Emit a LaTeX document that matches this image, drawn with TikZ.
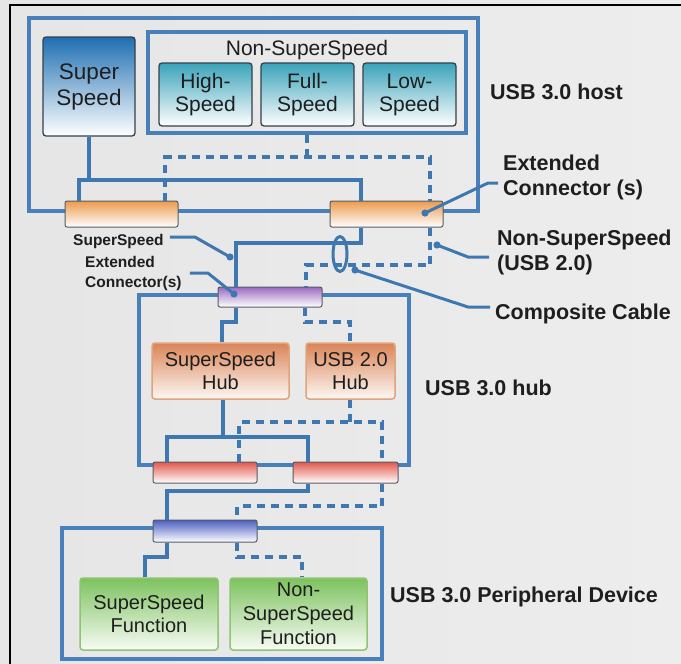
\documentclass[tikz,border=0pt]{standalone}
\usepackage{fontspec}
\setmainfont{Liberation Sans}
\usetikzlibrary{calc,shapes.geometric}

\definecolor{wireblue}{HTML}{3F78B0}
\definecolor{boxblue}{HTML}{4A80BA}
\definecolor{ssblue}{HTML}{1F6FB2}
\definecolor{tealc}{HTML}{3BA3BA}
\definecolor{orangec}{HTML}{EC9A4C}
\definecolor{purplec}{HTML}{9A6BC2}
\definecolor{redc}{HTML}{E2584C}
\definecolor{bluec}{HTML}{4C5EC0}
\definecolor{hubc}{HTML}{DA8456}
\definecolor{hubedge}{HTML}{E0A47C}
\definecolor{greenc}{HTML}{7DC25E}
\definecolor{greenedge}{HTML}{8FC472}
\definecolor{edgedark}{HTML}{34404C}
\definecolor{inkc}{HTML}{1E1E1E}

\begin{document}
\begin{tikzpicture}[x=1pt,y=-1pt,
  container/.style={draw=boxblue, line width=3.3pt, inner sep=0pt},
  gradbox/.style={rounded corners=3pt, inner sep=0pt, align=center, text=inkc,
    font=\fontsize{21}{23}\selectfont},
  ssboxstyle/.style={gradbox, draw=edgedark, line width=1.3pt,
    top color=ssblue, middle color=ssblue!45!white, bottom color=white,
    font=\fontsize{22.5}{26}\selectfont},
  tealbox/.style={gradbox, draw=edgedark, line width=1.3pt,
    top color=tealc, middle color=tealc!45!white, bottom color=white,
    minimum width=93pt, minimum height=63pt},
  hubbox/.style={gradbox, draw=hubedge, line width=1.5pt,
    top color=hubc, middle color=hubc!55!white, bottom color=white!94!hubc,
    minimum height=56pt, font=\fontsize{20}{23}\selectfont},
  funcbox/.style={gradbox, draw=greenedge, line width=1.5pt,
    top color=greenc, middle color=greenc!55!white, bottom color=white!94!greenc,
    minimum width=137pt, minimum height=72pt, font=\fontsize{20}{23}\selectfont},
  plug/.style={rounded corners=2pt, draw=edgedark!85, line width=1pt, inner sep=0pt,
    minimum width=104pt, minimum height=21pt},
  wire/.style={draw=wireblue, line width=3.3pt},
  dwire/.style={wire, dash pattern=on 8pt off 6pt},
  leader/.style={draw=wireblue, line width=3pt},
  dot/.style={fill=wireblue},
  biglabel/.style={anchor=west, inner sep=0pt, align=left, text=inkc,
    font=\bfseries\fontsize{21.5}{25}\selectfont},
  smalllabel/.style={anchor=west, inner sep=0pt, align=left, text=inkc,
    font=\bfseries\fontsize{15.5}{20}\selectfont}
]
% page and background
\useasboundingbox (0,0) rectangle (681,664);
\shade[left color=black!10, middle color=black!4, right color=black!7]
  (-10,-10) rectangle (691,674);
\draw[black, line width=2.6pt] (10,674) -- (10,5) -- (691,5);

% ---------------- containers ----------------
\node[container, minimum width=449pt, minimum height=193pt] (host) at (253.5,114.5) {};
\node[container, minimum width=318pt, minimum height=101pt] (nss) at (307,82.5) {};
\node[container, minimum width=270pt, minimum height=170pt] (hub) at (274,380) {};
\node[container, minimum width=320pt, minimum height=131pt] (dev) at (222,593.5) {};

% ---------------- host ----------------
\node[ssboxstyle, minimum width=92pt, minimum height=99pt] (ss) at (89,86.5) {Super\\Speed};
\node[inner sep=0pt, text=inkc, font=\fontsize{21}{23}\selectfont] (nsstitle) at (307,50) {Non-SuperSpeed};
\node[tealbox] (hs) at (205.5,94.5) {High-\\Speed};
\node[tealbox] (fs) at (307.5,94.5) {Full-\\Speed};
\node[tealbox] (ls) at (409.5,94.5) {Low-\\Speed};

% wiring between the host ports and its connectors
\draw[wire] (ss.south) -- (ss.south |- 0,180);
\draw[dwire] (nss.south) -- (nss.south |- 0,157);

% ---------------- hub ----------------
\node[hubbox, minimum width=137pt] (sshub) at (220.5,371) {SuperSpeed\\Hub};
\node[hubbox, minimum width=89pt] (u2hub) at (350.5,371) {USB 2.0\\Hub};

% ---------------- device ----------------
\node[funcbox, minimum width=138pt] (ssf) at (149,614) {SuperSpeed\\Function};
\node[funcbox, font=\fontsize{20}{24}\selectfont] (nssf) at (298.5,614) {Non-\\SuperSpeed\\Function};

% ---------------- connectors (plugs) ----------------
\node[plug, minimum width=113pt, minimum height=26pt,
  top color=orangec, middle color=orangec!75!white, bottom color=white] (oc1) at (121.5,214) {};
\node[plug, minimum width=113pt, minimum height=26pt,
  top color=orangec, middle color=orangec!75!white, bottom color=white] (oc2) at (386.5,214) {};
\node[plug, minimum height=20pt,
  top color=purplec, middle color=purplec!75!white, bottom color=white] (pc) at (270,297) {};
\node[plug, top color=redc, middle color=redc!75!white, bottom color=white] (rc1) at (205,472.5) {};
\node[plug, minimum width=105pt, top color=redc, middle color=redc!75!white, bottom color=white] (rc2) at (345.5,472.5) {};
\node[plug, minimum height=22pt,
  top color=bluec, middle color=bluec!75!white, bottom color=white] (bc) at (205,531) {};

% ---------------- SuperSpeed wiring ----------------
\draw[wire] (oc1.north -| 79,0) |- (361,180) -- (oc2.north -| 361,0);
\draw[wire] (oc2.south -| 361,0) |- (236,243) -- (pc.north -| 236,0);
\draw[wire] (pc.south -| 236,0) |- (222,322) -- (sshub.north -| 222,0);
\draw[wire] (sshub.south -| 223,0) -- (223,437);
\draw[wire] (rc1.north -| 167,0) |- (308,437) -- (rc2.north -| 308,0);
\draw[wire] (rc2.south -| 308,0) |- (167,491) -- (bc.north -| 167,0);
\draw[wire] (bc.south -| 167,0) |- (145,557) -- (ssf.north -| 145,0);

% ---------------- USB 2.0 wiring ----------------
\draw[dwire] (oc1.north -| 165,0) |- (430,157) -- (oc2.north -| 430,0);
\draw[dwire] (oc2.south -| 430,0) |- (306,265) -- (pc.north -| 306,0);
\draw[dwire] (pc.south -| 305,0) |- (350,322) -- (u2hub.north -| 350,0);
\draw[dwire] (u2hub.south -| 350,0) -- (350,422);
\draw[dwire] (rc1.north -| 239,0) |- (382,422) -- (rc2.north -| 382,0);
\draw[dwire] (rc2.south -| 382,0) |- (237,506) -- (bc.north -| 237,0);
\draw[dwire] (bc.south -| 237,0) |- (302,557) -- (nssf.north -| 302,0);

% composite cable ring
\node[draw=wireblue, line width=3pt, ellipse, inner sep=0pt,
  minimum width=14pt, minimum height=35pt] (cable) at (340,254) {};

% ---------------- labels ----------------
\node[biglabel] (lhost) at (490,92) {USB 3.0 host};
\node[biglabel] (lext) at (503,177) {Extended\\Connector (s)};
\node[biglabel] (lnss) at (497,252) {Non-SuperSpeed\\(USB 2.0)};
\node[biglabel] (lcab) at (495,314) {Composite Cable};
\node[biglabel] (lhub) at (425,388) {USB 3.0 hub};
\node[biglabel] (ldev) at (390,597) {USB 3.0 Peripheral Device};
\node[smalllabel] (lss) at (73,241) {SuperSpeed};
\node[smalllabel] (lext2) at (85,273) {Extended\\Connector(s)};

% leader ends
\coordinate (pext) at (425,213);
\coordinate (pnss) at (437,245);
\coordinate (pcab) at (355,270);
\coordinate (pss) at (230,257);
\coordinate (pext2) at (234,294);

\draw[leader] ([shift={(-5,6)}]lext.west) -- ++(-10,0) -- (pext);
\draw[leader] ([shift={(-8,5)}]lnss.west) -- ++(-21,0) -- (pnss);
\draw[leader] ([shift={(-5,-7)}]lcab.west) -- ++(-22,0) -- (pcab);
\draw[leader] ([shift={(6,-4)}]lss.east) -- ++(25,0) -- (pss);
\draw[leader] ([shift={(8,0)}]lext2.east) -- ++(18,0) -- (pext2);
\foreach \p in {pext,pnss,pcab,pss,pext2} \fill[dot] (\p) circle (3.6pt);
\end{tikzpicture}
\end{document}
